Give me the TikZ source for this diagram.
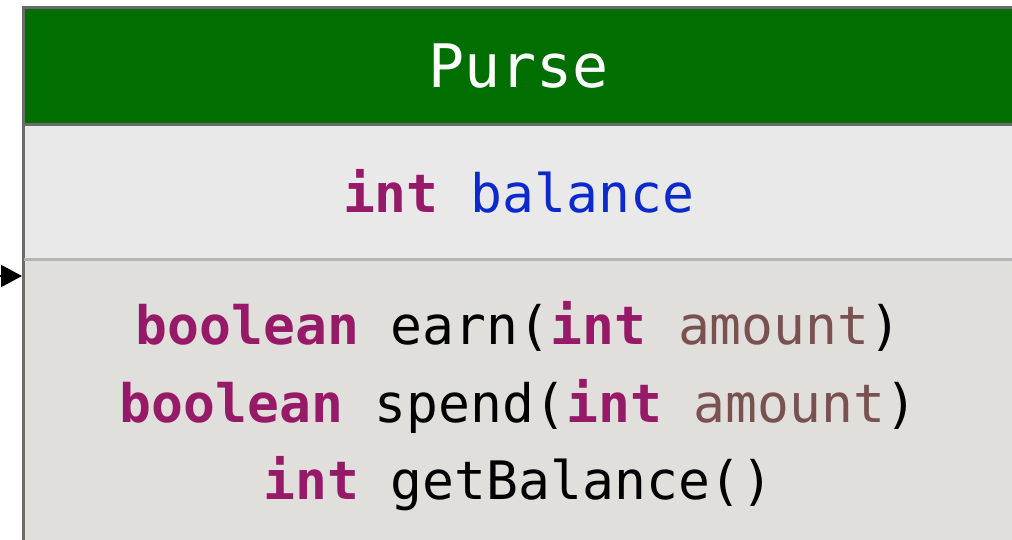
\documentclass[tikz,border=0pt]{standalone}
\usepackage{xcolor}
\usepackage{fontspec}
\setmonofont{DejaVu Sans Mono}
\usepackage{tikz}
\usetikzlibrary{arrows.meta, positioning}

\definecolor{headgreen}{RGB}{0,110,0}
\definecolor{attrgray}{RGB}{233,233,233}
\definecolor{methgray}{RGB}{224,223,219}
\definecolor{edgegray}{RGB}{107,107,107}
\definecolor{rulegray}{RGB}{180,180,180}
\definecolor{kwpurple}{RGB}{151,26,104}
\definecolor{fieldblue}{RGB}{12,42,204}
\definecolor{parambrown}{RGB}{122,81,81}

\newcommand{\kw}[1]{\textcolor{kwpurple}{\textbf{#1}}}
\newcommand{\fld}[1]{\textcolor{fieldblue}{#1}}
\newcommand{\prm}[1]{\textcolor{parambrown}{#1}}

\begin{document}
\begin{tikzpicture}[x=1pt, y=-1pt]
		\tikzstyle{every node} = [inner sep=0pt, outer sep=0pt, minimum width=990pt, anchor=north,
			font=\ttfamily\fontsize{53}{77.5}\selectfont]
		\tikzstyle{section} = [fill=#1]
		\useasboundingbox (0,0) rectangle (1012,539);
				% class box
				\node[section=headgreen, text=white, minimum height=116.5pt,
					font=\ttfamily\fontsize{60}{72}\selectfont] (head) at (518.5,7.5) {Purse};
				\node[section=attrgray, minimum height=135pt, below=0pt of head] (attrs)
					{\kw{int} \fld{balance}};
				\node[section=methgray, minimum height=295pt, below=0pt of attrs, align=center] (methods)
					{\kw{boolean} earn(\kw{int} \prm{amount})\\
					 \kw{boolean} spend(\kw{int} \prm{amount})\\
					 \kw{int} getBalance()};
				\path[draw, edgegray, line width=3pt] (methods.south west)--
					(head.north west)--
					(head.north east)--
					(methods.south east);
				\path[draw, edgegray, line width=3pt] (head.south west)--
					(head.south east);
				\path[draw, rulegray, line width=3pt] (attrs.south west)--
					(attrs.south east);
				% incoming arrow
				\coordinate (src) at (-80,276);
				\path[draw, line width=2pt, -{Triangle[length=21pt, width=22pt]}] (src)--
					([xshift=-1.5pt, yshift=-17pt]methods.north west);
	\end{tikzpicture}
\end{document}
